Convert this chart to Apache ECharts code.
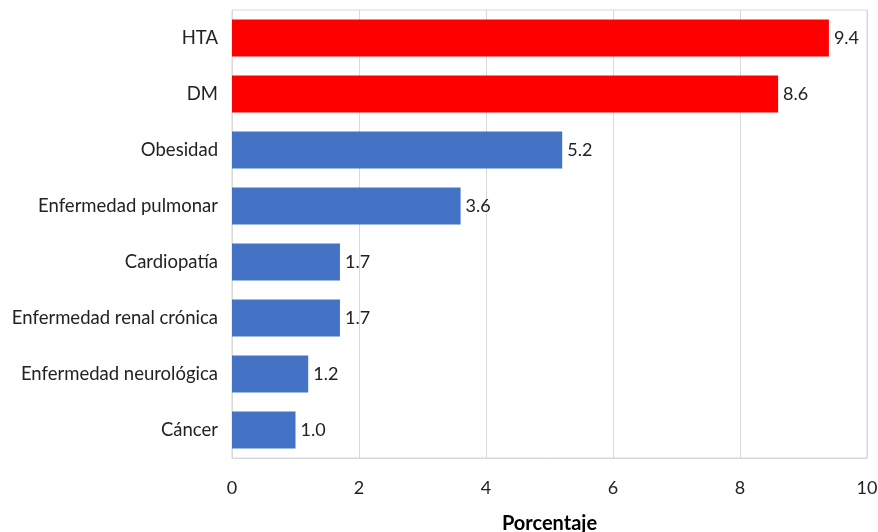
<!DOCTYPE html>
<html><head><meta charset="utf-8">
<script src="https://cdn.jsdelivr.net/npm/echarts@6/dist/echarts.min.js"></script>
<style>html,body{margin:0;padding:0;background:#fff}#c{width:878px;height:532px}</style>
</head><body><div id="c"></div>
<script>
var categories = ["HTA","DM","Obesidad","Enfermedad pulmonar","Cardiopatía","Enfermedad renal crónica","Enfermedad neurológica","Cáncer"];
var values = [9.4, 8.6, 5.2, 3.6, 1.7, 1.7, 1.2, 1.0];
var barColors = ["#ff0000","#ff0000","#4472c4","#4472c4","#4472c4","#4472c4","#4472c4","#4472c4"];
var xTicks = [0, 2, 4, 6, 8, 10];

var font = "Lato, 'Open Sans', sans-serif";
var chart = echarts.init(document.getElementById('c'));
chart.setOption({
  animation: false,
  grid: { left: 232, right: 11, top: 10, bottom: 74, show: true, borderColor: '#d9d9d9', borderWidth: 1,
    containLabel: false, outerBoundsMode: 'none' },
  xAxis: {
    type: 'value', min: xTicks[0], max: xTicks[xTicks.length-1], interval: 2,
    name: 'Porcentaje', nameLocation: 'middle', nameGap: 56,
    nameTextStyle: { fontFamily: font, fontSize: 20, fontWeight: 'bold', color: '#000' },
    axisLine: { show: true, lineStyle: { color: '#d9d9d9' } },
    axisTick: { show: false },
    axisLabel: { fontFamily: font, fontSize: 18, color: '#222', margin: 21 },
    splitLine: { show: true, lineStyle: { color: '#d9d9d9' } }
  },
  yAxis: {
    type: 'category', data: categories, inverse: true,
    axisLine: { show: false }, axisTick: { show: false },
    axisLabel: { fontFamily: font, fontSize: 18.5, color: '#222', margin: 14 }
  },
  series: [{
    type: 'bar', barCategoryGap: '34%',
    data: values.map(function(v, i){ return { value: v, itemStyle: { color: barColors[i] } }; }),
    label: { show: true, position: 'right', distance: 5, fontFamily: font, fontSize: 18, color: '#222',
      formatter: function(p){ return p.value.toFixed(1); } }
  }]
});
</script></body></html>
